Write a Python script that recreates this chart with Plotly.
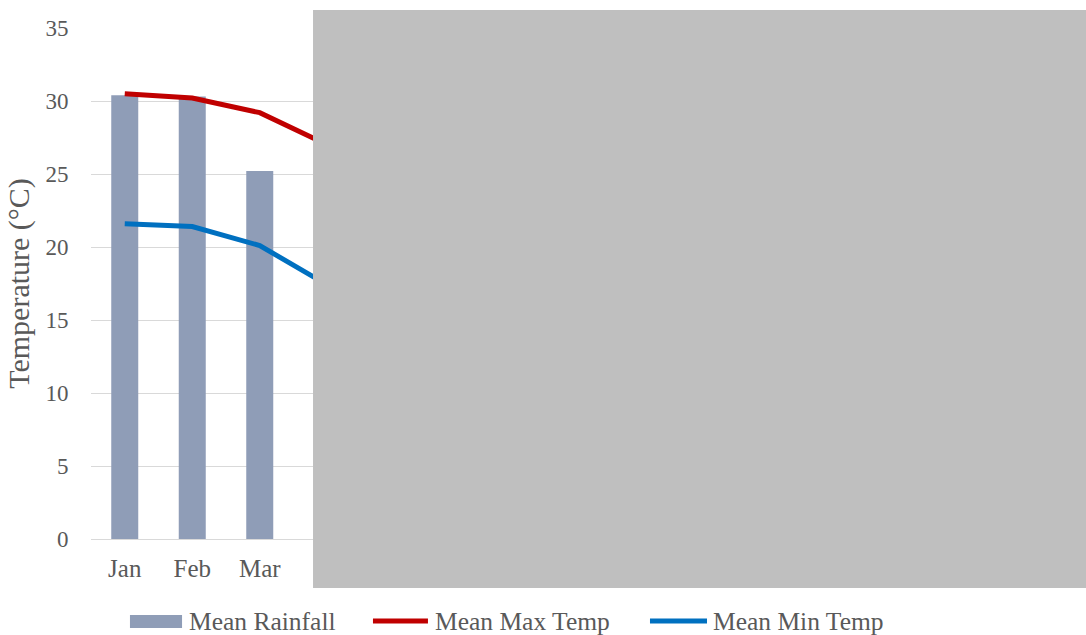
import plotly.graph_objects as go

# Monthly climate figures (values past April are not shown)
months = ["Jan", "Feb", "Mar", "Apr", "May", "Jun",
          "Jul", "Aug", "Sep", "Oct", "Nov", "Dec"]
mean_rainfall = [30.4, 30.3, 25.2, None, None, None,
                 None, None, None, None, None, None]
mean_max_temp = [30.5, 30.2, 29.2, 27.0, None, None,
                 None, None, None, None, None, None]
mean_min_temp = [21.6, 21.4, 20.1, 17.4, None, None,
                 None, None, None, None, None, None]
y_ticks = [0, 5, 10, 15, 20, 25, 30, 35]
# month labels left uncovered by the grey panel
labelled_months = ["Jan", "Feb", "Mar"]

series_names = ["Mean Rainfall", "Mean Max Temp", "Mean Min Temp"]
bar_color = "#8F9DB7"
max_color = "#C00000"
min_color = "#0070C0"
text_color = "#595959"
grid_color = "#D9D9D9"
font_family = "Liberation Serif, Times New Roman, serif"

fig = go.Figure()
fig.add_trace(go.Bar(x=months, y=mean_rainfall, name=series_names[0],
                     marker=dict(color=bar_color, line=dict(width=0)),
                     width=0.4, showlegend=False))
fig.add_trace(go.Scatter(x=months, y=mean_max_temp, name=series_names[1],
                         mode="lines", line=dict(color=max_color, width=5),
                         showlegend=False))
fig.add_trace(go.Scatter(x=months, y=mean_min_temp, name=series_names[2],
                         mode="lines", line=dict(color=min_color, width=5),
                         showlegend=False))

# Legend drawn below the plot area
shapes = [
    dict(type="rect", xref="paper", yref="paper",
         x0=0.0481, x1=0.1124, y0=-0.1742, y1=-0.1487,
         fillcolor=bar_color, line=dict(width=0)),
    dict(type="line", xref="paper", yref="paper",
         x0=0.3481, x1=0.4160, y0=-0.1605, y1=-0.1605,
         line=dict(color=max_color, width=5)),
    dict(type="line", xref="paper", yref="paper",
         x0=0.6901, x1=0.7605, y0=-0.1605, y1=-0.1605,
         line=dict(color=min_color, width=5)),
    # grey panel over the right part of the chart
    dict(type="rect", xref="paper", yref="paper", layer="above",
         x0=0.2741, x1=1.23, y0=-0.0959, y1=1.0352,
         fillcolor="#BFBFBF", line=dict(width=0)),
]
legend_x = [0.1185, 0.4222, 0.7654]
annotations = [
    dict(text=name, x=lx, y=-0.1605, xref="paper", yref="paper",
         xanchor="left", yanchor="middle", showarrow=False,
         font=dict(family=font_family, size=25.5, color=text_color))
    for name, lx in zip(series_names, legend_x)
]

fig.update_layout(
    width=1086, height=635,
    margin=dict(l=91, r=185, t=28, b=96),
    paper_bgcolor="white", plot_bgcolor="white",
    font=dict(family=font_family, color=text_color),
    bargap=0.6,
    shapes=shapes,
    annotations=annotations,
    showlegend=False,
)
fig.update_xaxes(
    categoryorder="array", categoryarray=months,
    range=[-0.5, len(months) - 0.5],
    tickvals=labelled_months,
    showgrid=False, showline=False, zeroline=False,
    ticks="outside", ticklen=7, tickcolor="rgba(0,0,0,0)",
    tickfont=dict(family=font_family, size=25, color=text_color),
)
fig.update_yaxes(
    range=[0, 35], tickvals=y_ticks,
    showgrid=True, gridcolor=grid_color, gridwidth=1,
    zeroline=True, zerolinecolor=grid_color, zerolinewidth=1,
    showline=False,
    ticks="outside", ticklen=17, tickcolor="rgba(0,0,0,0)",
    tickfont=dict(family=font_family, size=23, color=text_color),
    title=dict(text="Temperature (°C)", standoff=6,
               font=dict(family=font_family, size=30, color=text_color)),
)

fig.write_html("out.html")
